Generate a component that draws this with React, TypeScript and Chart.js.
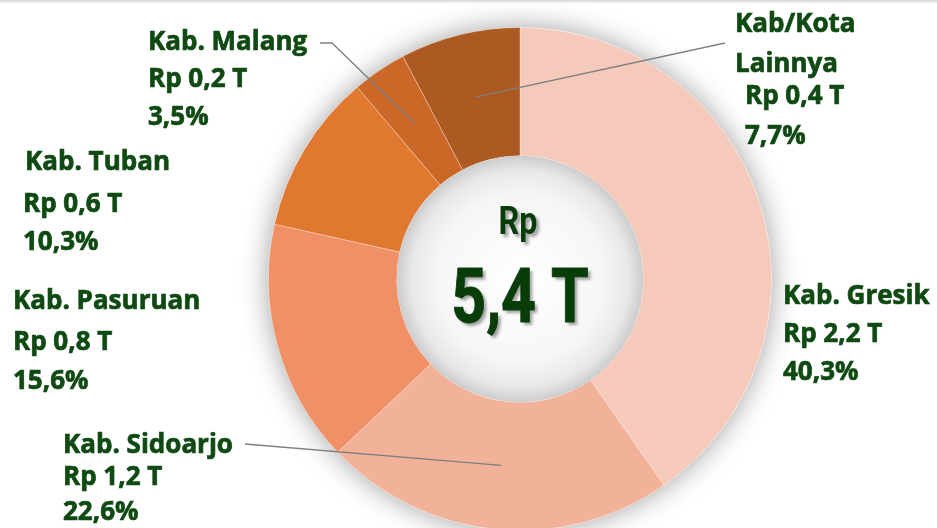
import React, { useEffect, useRef } from "react";
import { Chart, registerables } from "chart.js";

Chart.register(...registerables);

// ---- data ----
const categories = ["Kab. Gresik", "Kab. Sidoarjo", "Kab. Pasuruan", "Kab. Tuban", "Kab. Malang", "Kab/Kota Lainnya"];
const nameLines = [["Kab. Gresik"], ["Kab. Sidoarjo"], ["Kab. Pasuruan"], ["Kab. Tuban"], ["Kab. Malang"], ["Kab/Kota", "Lainnya"]];
const shares = [40.3, 22.6, 15.6, 10.3, 3.5, 7.7];
const amountLabels = ["Rp 2,2 T", "Rp 1,2 T", "Rp 0,8 T", "Rp 0,6 T", "Rp 0,2 T", "Rp 0,4 T"];
const shareLabels = ["40,3%", "22,6%", "15,6%", "10,3%", "3,5%", "7,7%"];
const totalLines = ["Rp", "5,4 T"];

// ---- styles / layout ----
const colors = ["#F5CABA", "#F2B29A", "#EF9067", "#E07830", "#CB6828", "#AD5A22"];
const labelColor = "#0F4A13";
const centerColor = "#083D0A";

type LabelLayout = {
  nameX: number;
  textX: number;
  ys: number[];
  leader?: number[][];
};
const labelLayout: LabelLayout[] = [
  { nameX: 783, textX: 783, ys: [297, 335, 373] },
  { nameX: 63, textX: 63, ys: [446, 478, 513], leader: [[245, 444]] },
  { nameX: 13, textX: 13, ys: [302, 343, 382] },
  { nameX: 25, textX: 23, ys: [163, 205, 243] },
  { nameX: 148, textX: 148, ys: [43, 80, 118], leader: [[320, 43], [332, 43]] },
  { nameX: 735, textX: 745, ys: [25, 65, 97, 137], leader: [[725, 43]] },
];

const decorPlugin = {
  id: "decor",
  beforeDraw(chart: any) {
    const ctx = chart.ctx;
    ctx.save();
    const g = ctx.createLinearGradient(0, 0, 0, 5);
    g.addColorStop(0, "#cfcfcf");
    g.addColorStop(1, "rgba(255,255,255,0)");
    ctx.fillStyle = g;
    ctx.fillRect(0, 0, chart.width, 5);
    ctx.restore();
  },
  beforeDatasetsDraw(chart: any) {
    const arc = chart.getDatasetMeta(0).data[0];
    if (!arc) return;
    const ctx = chart.ctx;
    ctx.save();
    ctx.shadowColor = "rgba(0,0,0,0.38)";
    ctx.shadowBlur = 28;
    ctx.fillStyle = "#ffffff";
    ctx.beginPath();
    ctx.arc(arc.x, arc.y, arc.outerRadius, 0, Math.PI * 2);
    ctx.fill();
    ctx.restore();
  },
  afterDatasetsDraw(chart: any) {
    const meta = chart.getDatasetMeta(0);
    const arcs = meta.data;
    if (!arcs.length) return;
    const ctx = chart.ctx;
    const cx = arcs[0].x;
    const cy = arcs[0].y;
    const ir = arcs[0].innerRadius;

    // inner disc with soft inner shadow
    ctx.save();
    const rg = ctx.createRadialGradient(cx, cy, 0, cx, cy, ir);
    rg.addColorStop(0, "#ffffff");
    rg.addColorStop(0.68, "#f6f6f6");
    rg.addColorStop(0.88, "#e8e8e8");
    rg.addColorStop(1, "#cccccc");
    ctx.fillStyle = rg;
    ctx.beginPath();
    ctx.arc(cx, cy, ir, 0, Math.PI * 2);
    ctx.fill();
    ctx.restore();

    // center text
    ctx.save();
    ctx.fillStyle = centerColor;
    ctx.strokeStyle = centerColor;
    ctx.lineWidth = 1;
    ctx.textAlign = "center";
    ctx.textBaseline = "middle";
    ctx.shadowColor = "rgba(0,0,0,0.35)";
    ctx.shadowOffsetX = 3;
    ctx.shadowOffsetY = 3;
    ctx.shadowBlur = 3;
    ctx.save();
    ctx.translate(cx - 2, cy - 55);
    ctx.scale(0.85, 1);
    ctx.font = "bold 38px Roboto";
    ctx.fillText(totalLines[0], 0, 0);
    ctx.restore();
    ctx.save();
    ctx.translate(cx, cy + 24);
    ctx.scale(0.8, 1);
    ctx.font = "bold 76px Roboto";
    ctx.fillText(totalLines[1], 0, 0);
    ctx.shadowColor = "rgba(0,0,0,0)";
    ctx.strokeText(totalLines[1], 0, 0);
    ctx.restore();
    ctx.restore();

    // leader lines
    ctx.save();
    ctx.strokeStyle = "#7f7f7f";
    ctx.lineWidth = 1.3;
    labelLayout.forEach((lay, i) => {
      if (!lay.leader || !arcs[i]) return;
      const p = arcs[i].getCenterPoint();
      ctx.beginPath();
      ctx.moveTo(lay.leader[0][0], lay.leader[0][1]);
      for (let k = 1; k < lay.leader.length; k++) ctx.lineTo(lay.leader[k][0], lay.leader[k][1]);
      ctx.lineTo(p.x, p.y);
      ctx.stroke();
    });
    ctx.restore();

    // labels
    ctx.save();
    ctx.fillStyle = labelColor;
    ctx.strokeStyle = labelColor;
    ctx.lineWidth = 0.7;
    ctx.font = "bold 26px 'Open Sans'";
    ctx.textAlign = "left";
    ctx.textBaseline = "middle";
    categories.forEach((_, i) => {
      const lay = labelLayout[i];
      const names = nameLines[i];
      const lines = [...names, amountLabels[i], shareLabels[i]];
      lines.forEach((t, k) => {
        const x = k < names.length ? lay.nameX : lay.textX;
        ctx.fillText(t, x, lay.ys[k]);
        ctx.strokeText(t, x, lay.ys[k]);
      });
    });
    ctx.restore();
  },
};

export default function App() {
  const ref = useRef<HTMLCanvasElement | null>(null);
  useEffect(() => {
    if (!ref.current) return;
    const chart = new Chart(ref.current, {
      type: "doughnut",
      data: {
        labels: categories,
        datasets: [
          {
            data: shares,
            backgroundColor: colors,
            borderColor: "rgba(255,255,255,0.3)",
            borderWidth: 1,
          },
        ],
      },
      options: {
        responsive: false,
        animation: false,
        cutout: "49%",
        layout: { padding: { left: 268, right: 165, top: 27, bottom: 5 } },
        plugins: {
          legend: { display: false },
          tooltip: { enabled: false },
        },
      },
      plugins: [decorPlugin],
    });
    return () => chart.destroy();
  }, []);
  return (
    <div style={{ position: "fixed", left: 0, top: 0, width: 937, height: 528, overflow: "hidden", background: "#ffffff" }}>
      <canvas ref={ref} width={937} height={536} style={{ display: "block" }} />
    </div>
  );
}
